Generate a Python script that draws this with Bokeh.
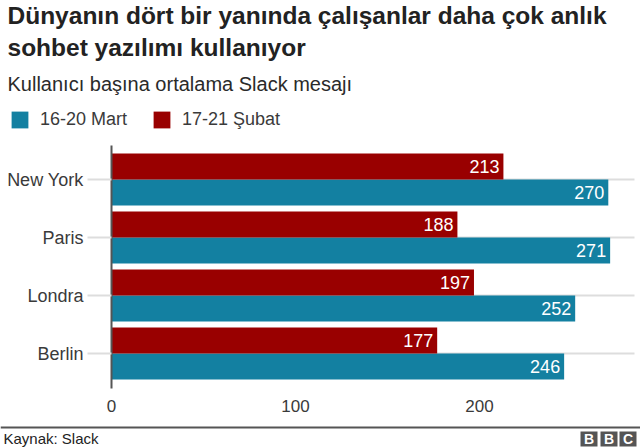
from bokeh.embed import file_html
from bokeh.resources import INLINE
from bokeh.models import (BoxAnnotation, ColumnDataSource, Label, Legend, LegendItem, LinearAxis,
                          Range1d, FixedTicker)
from bokeh.plotting import figure
from bokeh.transform import dodge

cities = ["Berlin", "Londra", "Paris", "New York"]
city_pos = [0, 1, 2, 3]
mart = [246, 252, 271, 270]
subat = [177, 197, 188, 213]
x_ticks = [0, 100, 200]
series_names = ["16-20 Mart", "17-21 Şubat"]
title_lines = ["Dünyanın dört bir yanında çalışanlar daha çok anlık",
               "sohbet yazılımı kullanıyor"]
subtitle = "Kullanıcı başına ortalama Slack mesajı"
source_text = "Kaynak: Slack"
BLUE, RED, INK = "#1380A1", "#990000", "#3a3a3a"
FONT = "Liberation Sans"
W, H = 640, 448

# The plot area fills the canvas, so that headings and footer can sit in it.
X0_PX, PX_PER_X = 111, 1.84
Y0_PX, PX_PER_Y = 353, 58
def data_x(px):
    return (px - X0_PX) / PX_PER_X
def data_y(px):
    return (Y0_PX - px) / PX_PER_Y

src = ColumnDataSource(dict(pos=city_pos, mart=mart, subat=subat,
                            mart_t=[str(v) for v in mart], subat_t=[str(v) for v in subat]))

p = figure(width=W, height=H, output_backend="svg", toolbar_location=None,
           x_range=Range1d(data_x(0), data_x(W)), y_range=Range1d(data_y(H), data_y(0)),
           x_axis_location=None, y_axis_location=None,
           min_border=0)
p.outline_line_color = None
p.background_fill_color = "white"
p.grid.visible = False

p.segment(x0=0, x1=data_x(634), y0=city_pos, y1=city_pos, line_color="#dddddd", line_width=2)

BAR = 0.45
r_blue = p.hbar(y=dodge("pos", -BAR / 2), right="mart", left=0, height=BAR, fill_color=BLUE,
                line_color=None, source=src)
r_red = p.hbar(y=dodge("pos", BAR / 2), right="subat", left=0, height=BAR, fill_color=RED,
               line_color=None, source=src)
for col, lab, off in (("mart", "mart_t", -BAR / 2), ("subat", "subat_t", BAR / 2)):
    p.text(x=col, y=dodge("pos", off), text=lab, source=src, x_offset=-4,
           text_align="right", text_baseline="middle", text_color="white",
           text_font={"value": FONT}, text_font_size={"value": "18px"})

xa = LinearAxis(ticker=FixedTicker(ticks=x_ticks), fixed_location=data_y(388))
xa.axis_line_color = None
xa.major_tick_line_color = None
xa.minor_tick_line_color = None
xa.major_label_standoff = 5
xa.major_label_text_font = FONT
xa.major_label_text_font_size = "17px"
xa.major_label_text_color = INK
p.add_layout(xa, "below")

ya = LinearAxis(ticker=FixedTicker(ticks=city_pos), fixed_location=0,
                bounds=(data_y(388), data_y(145)),
                major_label_overrides=dict(zip(city_pos, cities)))
ya.axis_line_color = "#555555"
ya.axis_line_width = 2
ya.major_tick_line_color = "#dddddd"
ya.major_tick_line_width = 2
ya.major_tick_out = 24
ya.major_tick_in = 0
ya.minor_tick_line_color = None
ya.major_label_standoff = 4
ya.major_label_text_font = FONT
ya.major_label_text_font_size = "18px"
ya.major_label_text_color = INK
p.add_layout(ya, "left")

legend = Legend(items=[LegendItem(label=series_names[0], renderers=[r_blue]),
                       LegendItem(label=series_names[1], renderers=[r_red])],
                orientation="horizontal", location=(9, H - 130),
                margin=0, padding=0, spacing=24, glyph_width=21, glyph_height=21, label_standoff=10,
                background_fill_alpha=0, border_line_color=None,
                label_text_font=FONT, label_text_font_size="18px", label_text_color=INK)
p.add_layout(legend)

def screen_label(text, x, y, size, color="#222222", style="normal", align="left"):
    p.add_layout(Label(x=x, y=H - y, x_units="screen", y_units="screen", text=text,
                       text_font=FONT, text_font_size=size, text_font_style=style,
                       text_color=color, text_align=align, text_baseline="middle"))

def screen_box(x0, x1, y0, y1, color):
    p.add_layout(BoxAnnotation(left=x0, right=x1, top=H - y0, bottom=H - y1, left_units="screen",
                               right_units="screen", top_units="screen", bottom_units="screen",
                               fill_color=color, fill_alpha=1, line_color=None))

screen_label(title_lines[0], 7, 15, "24.5px", style="bold")
screen_label(title_lines[1], 7, 47, "24.5px", style="bold")
screen_label(subtitle, 7, 83, "20px", color="#2a2a2a")
screen_label(source_text, 3, 438, "15px")

screen_box(0, W, 426, 428, "#555555")
for letter, x0 in zip("BBC", (580, 600, 619)):
    screen_box(x0, x0 + 17, 431, 446, "#555555")
    screen_label(letter, x0 + 8.5, 438.5, "14px", color="white", style="bold", align="center")

open("out.html", "w").write(file_html(p, INLINE))
